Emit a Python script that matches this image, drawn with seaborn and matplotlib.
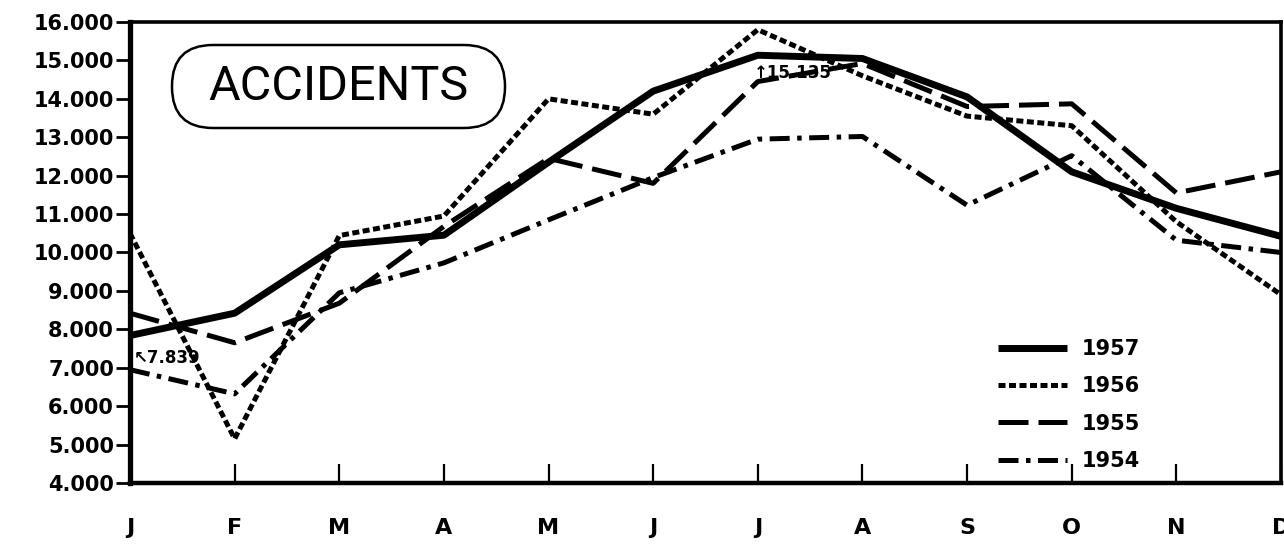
import matplotlib
matplotlib.use("Agg")
import matplotlib.pyplot as plt
from matplotlib import font_manager
from matplotlib.patches import FancyBboxPatch
from matplotlib.transforms import IdentityTransform
from matplotlib.ticker import FuncFormatter
import seaborn as sns
import pandas as pd

# ---- data ----
months = ["J", "F", "M", "A", "M", "J", "J", "A", "S", "O", "N", "D"]
y1957 = [7839, 8420, 10200, 10450, 12350, 14200, 15135, 15050, 14050, 12100, 11150, 10420]
y1956 = [10500, 5150, 10440, 10950, 14000, 13600, 15800, 14600, 13550, 13300, 10800, 8900]
y1955 = [8420, 7650, 8680, 10680, 12450, 11800, 14450, 14920, 13800, 13870, 11550, 12100]
y1954 = [6950, 6320, 8950, 9730, 10850, 11950, 12950, 13020, 11230, 12520, 10320, 10000]
years = ["1957", "1956", "1955", "1954"]
yticks = [4000, 5000, 6000, 7000, 8000, 9000, 10000, 11000, 12000, 13000, 14000, 15000, 16000]
title = "ACCIDENTS"
note_low = "\u21967.839"
note_high = "\u219115.135"

sns.set_style("white")
plt.rcParams["font.family"] = ["DejaVu Sans"]
plt.rcParams["text.color"] = "black"
plt.rcParams["axes.labelcolor"] = "black"

names = {f.name for f in font_manager.fontManager.ttflist}
title_font = "Roboto" if "Roboto" in names else "DejaVu Sans"

W, H = 1284, 544
fig = plt.figure(figsize=(W / 100, H / 100), dpi=100)
ax = fig.add_axes([130 / W, 1 - 483 / H, (1281 - 130) / W, (483 - 22) / H])

x = list(range(len(months)))
series = {"1957": y1957, "1956": y1956, "1955": y1955, "1954": y1954}
styles = {
    "1957": dict(lw=5.0, linestyle="-", solid_capstyle="butt"),
    "1956": dict(lw=3.6, linestyle=(0, (1.4, 0.7))),
    "1955": dict(lw=3.6, linestyle=(0, (6.0, 2.0))),
    "1954": dict(lw=3.6, linestyle=(0, (4.0, 1.5, 0.9, 1.5))),
}
for yr in years:
    df = pd.DataFrame({"month": x, "value": series[yr]})
    sns.lineplot(data=df, x="month", y="value", ax=ax, color="black",
                 label=yr, **styles[yr])

ax.set_xlim(0, 11)
ax.set_ylim(4000, 16000)
ax.set_xlabel("")
ax.set_ylabel("")
ax.set_xticks(x)
ax.set_xticklabels(months)
ax.set_yticks(yticks)
ax.yaxis.set_major_formatter(FuncFormatter(lambda v, p: f"{v/1000:.3f}"))

for side, w in [("left", 3.8), ("bottom", 3.2), ("top", 2.6), ("right", 2.6)]:
    ax.spines[side].set_visible(True)
    ax.spines[side].set_linewidth(w)
    ax.spines[side].set_color("black")

ax.tick_params(axis="y", direction="out", length=10, width=2, pad=1.5,
               labelsize=15, colors="black", left=True)
ax.tick_params(axis="x", direction="in", length=14, width=1.6, pad=25,
               labelsize=16, colors="black", bottom=True)
for lab in ax.get_yticklabels():
    lab.set_fontweight("bold")
for lab in ax.get_xticklabels():
    lab.set_fontweight("bold")

# annotations
ax.annotate(note_low, xy=(0, y1957[0]), xytext=(3, -10), textcoords="offset points",
            ha="left", va="top", fontsize=12, fontweight="bold")
ax.annotate(note_high, xy=(6, y1957[6]), xytext=(-3, -6), textcoords="offset points",
            ha="left", va="top", fontsize=12, fontweight="bold")

# title pill box
box = FancyBboxPatch((172, H - 128), 333, 83,
                     boxstyle="round,pad=0,rounding_size=41",
                     transform=IdentityTransform(), fill=False,
                     edgecolor="black", linewidth=1.8)
fig.add_artist(box)
fig.text(338 / W, 1 - 87 / H, title, ha="center", va="center",
         fontsize=35, family=title_font, color="black")

leg = ax.legend(loc="upper left", bbox_to_anchor=(998 / W, 1 - 339 / H),
                bbox_transform=fig.transFigure, frameon=False,
                fontsize=15, handlelength=3.3, handletextpad=0.7,
                labelspacing=0.83, borderpad=0, borderaxespad=0)
for t in leg.get_texts():
    t.set_fontweight("bold")
    t.set_color("black")

fig.savefig("out.png", dpi=100, facecolor="white")
